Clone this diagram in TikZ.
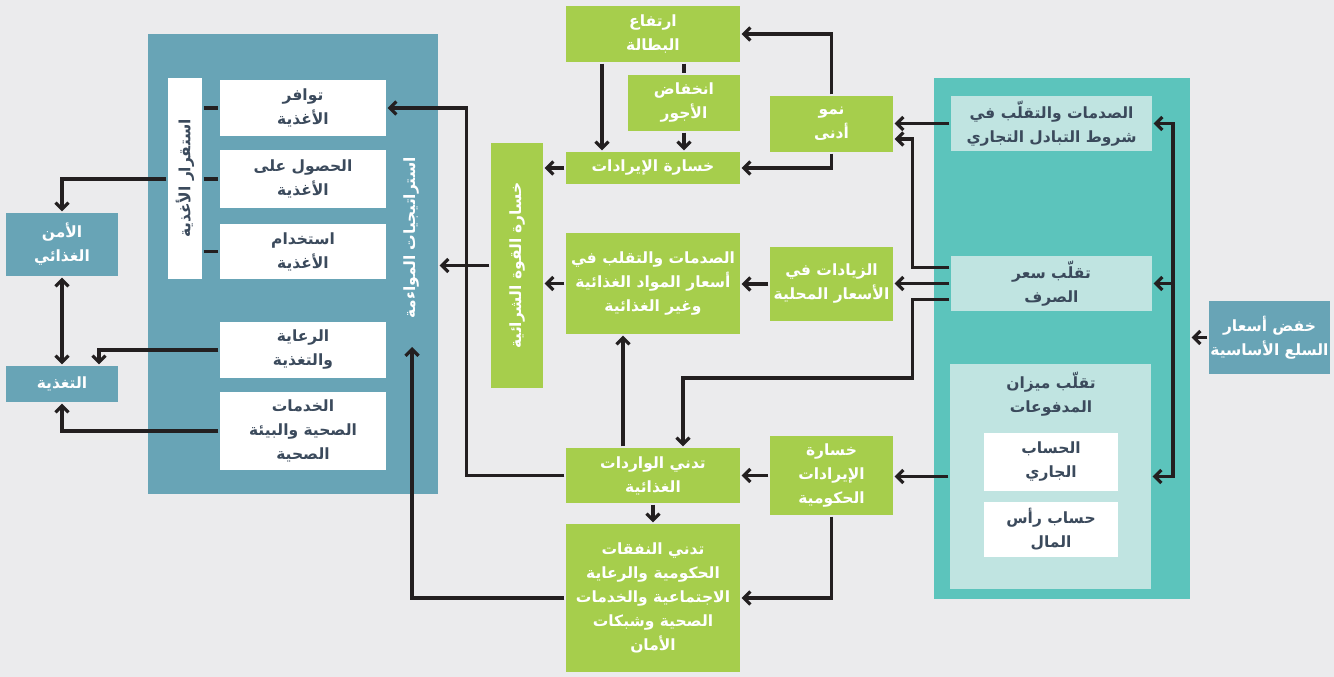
\documentclass[tikz,border=0pt]{standalone}
\usepackage{fontspec}
\usepackage{graphicx}
\usepackage{tikz}
\usetikzlibrary{arrows.meta}

\TeXXeTstate=1
\newfontfamily\arabicfont[Script=Arabic]{DejaVu Sans}
\newcommand{\ar}[1]{{\arabicfont\beginR #1\endR}}

\definecolor{bgGrey}{HTML}{EBEBED}
\definecolor{steelBlue}{HTML}{68A4B6}
\definecolor{leafGreen}{HTML}{A6CE4C}
\definecolor{seaTeal}{HTML}{5CC4BC}
\definecolor{paleTeal}{HTML}{C0E4E1}
\definecolor{inkSlate}{HTML}{3B4A5C}
\definecolor{lineBlack}{HTML}{231F20}

\begin{document}
\begin{tikzpicture}[x=1pt, y=-1pt, >={Straight Barb[length=6.5pt, width=13pt]},
    line width=3.2pt, draw=lineBlack, every node/.style={inner sep=0pt,
    align=center, font=\fontsize{15.5}{24}\selectfont\bfseries}]

  \tikzstyle{panel}=[minimum width=10, minimum height=10]
  \tikzstyle{gbox}=[fill=leafGreen, text=white]
  \tikzstyle{bbox}=[fill=steelBlue, text=white]
  \tikzstyle{wbox}=[fill=white, text=inkSlate]
  \tikzstyle{tbox}=[fill=paleTeal, text=inkSlate]

  \path[use as bounding box, fill=bgGrey] (0,0) rectangle (1334,677);

  % panels
  \node[panel, fill=steelBlue, minimum width=290, minimum height=460] (ADAPT) at (293,264) {};
  \node[text=white, rotate=90] (ADAPTlbl) at (411,238) {\ar{استراتيجيات المواءمة}};
  \node[panel, fill=seaTeal, minimum width=256, minimum height=521] (MACRO) at (1062,338.5) {};

  % food security side
  \node[wbox, minimum width=34, minimum height=201] (STAB) at (185,178.5) {\rotatebox{90}{\ar{استقرار الأغذية}}};
  \node[wbox, minimum width=166, minimum height=56] (AVAIL) at (303,108) {\ar{توافر}\\\ar{الأغذية}};
  \node[wbox, minimum width=166, minimum height=58] (ACCESS) at (303,179) {\ar{الحصول على}\\\ar{الأغذية}};
  \node[wbox, minimum width=166, minimum height=55] (UTIL) at (303,251.5) {\ar{استخدام}\\\ar{الأغذية}};
  \node[wbox, minimum width=166, minimum height=56] (CARE) at (303,350) {\ar{الرعاية}\\\ar{والتغذية}};
  \node[wbox, minimum width=166, minimum height=78] (HEALTH) at (303,431) {\ar{الخدمات}\\\ar{الصحية والبيئة}\\\ar{الصحية}};
  \node[bbox, minimum width=112, minimum height=63] (FSEC) at (62,244.5) {\ar{الأمن}\\\ar{الغذائي}};
  \node[bbox, minimum width=112, minimum height=36] (NUTR) at (62,384) {\ar{التغذية}};
  \coordinate (ADAPTin) at (412,347);

  % household and government channels
  \node[gbox, minimum width=174, minimum height=56] (UNEMP) at (653,34) {\ar{ارتفاع}\\\ar{البطالة}};
  \node[gbox, minimum width=112, minimum height=56] (WAGES) at (684,103) {\ar{انخفاض}\\\ar{الأجور}};
  \node[gbox, minimum width=174, minimum height=32] (INCLOSS) at (653,168) {\ar{خسارة الإيرادات}};
  \node[gbox, minimum width=123, minimum height=56] (GROWTH) at (831.5,124) {\ar{نمو}\\\ar{أدنى}};
  \node[gbox, minimum width=52, minimum height=245] (PPLOSS) at (517,265.5) {\rotatebox{90}{\ar{خسارة القوة الشرائية}}};
  \node[gbox, minimum width=174, minimum height=101] (PRICESHOCK) at (653,283.5) {\ar{الصدمات والتقلب في}\\\ar{أسعار المواد الغذائية}\\\ar{وغير الغذائية}};
  \node[gbox, minimum width=123, minimum height=74] (DOMPRICE) at (831.5,284) {\ar{الزيادات في}\\\ar{الأسعار المحلية}};
  \node[gbox, minimum width=174, minimum height=55] (IMPORTS) at (653,475.5) {\ar{تدني الواردات}\\\ar{الغذائية}};
  \node[gbox, minimum width=174, minimum height=148] (SPEND) at (653,598) {\ar{تدني النفقات}\\\ar{الحكومية والرعاية}\\\ar{الاجتماعية والخدمات}\\\ar{الصحية وشبكات}\\\ar{الأمان}};
  \node[gbox, minimum width=123, minimum height=79] (GOVREV) at (831.5,475.5) {\ar{خسارة}\\\ar{الإيرادات}\\\ar{الحكومية}};

  % macro shocks
  \node[tbox, minimum width=201, minimum height=55] (TOT) at (1051.5,123.5) {\ar{الصدمات والتقلّب في}\\\ar{شروط التبادل التجاري}};
  \node[tbox, minimum width=201, minimum height=55] (EXCH) at (1051.5,283.5) {\ar{تقلّب سعر}\\\ar{الصرف}};
  \node[tbox, minimum width=201, minimum height=225] (BOP) at (1050.5,476.5) {};
  \node[text=inkSlate] (BOPlbl) at (1051,394) {\ar{تقلّب ميزان}\\\ar{المدفوعات}};
  \node[wbox, minimum width=134, minimum height=58] (CURACC) at (1051,462) {\ar{الحساب}\\\ar{الجاري}};
  \node[wbox, minimum width=134, minimum height=55] (CAPACC) at (1051,529.5) {\ar{حساب رأس}\\\ar{المال}};
  \node[bbox, minimum width=121, minimum height=73] (COMMOD) at (1269.5,337.5) {\ar{خفض أسعار}\\\ar{السلع الأساسية}};
  \coordinate (BUS) at (1173,300);

  \draw (STAB.east |- AVAIL.west) -- (AVAIL.west);
  \draw (STAB.east |- ACCESS.west) -- (ACCESS.west);
  \draw (STAB.east |- UTIL.west) -- (UTIL.west);
  \draw[->] (STAB.west |- ACCESS.west) -| (FSEC.north);
  \draw[<->] (FSEC.south) -- (NUTR.north);
  \draw[->] (CARE.west) -| ([xshift=37pt]NUTR.north);
  \draw[->] (HEALTH.west) -| (NUTR.south);

  \draw[->] (GROWTH.north) |- (UNEMP.east);
  \draw[->] (GROWTH.south) |- (INCLOSS.east);
  \draw[->] ([xshift=-51pt]UNEMP.south) -- ([xshift=-51pt]INCLOSS.north);
  \draw (UNEMP.south -| WAGES.north) -- (WAGES.north);
  \draw[->] (WAGES.south) -- (WAGES.south |- INCLOSS.north);
  \draw[->] (INCLOSS.west) -- (INCLOSS.west -| PPLOSS.east);
  \draw[->] (DOMPRICE.west) -- (DOMPRICE.west -| PRICESHOCK.east);
  \draw[->] (PRICESHOCK.west) -- (PRICESHOCK.west -| PPLOSS.east);
  \draw[->] (PPLOSS.west) -- (PPLOSS.west -| ADAPT.east);
  \draw[->] ([xshift=-30pt]IMPORTS.north) -- ([xshift=-30pt]PRICESHOCK.south);
  \draw[->] (IMPORTS.south) -- (SPEND.north);
  \draw[->] (GOVREV.west) -- (GOVREV.west -| IMPORTS.east);
  \draw[->] (GOVREV.south) |- (SPEND.east);
  \draw[->] (IMPORTS.west) -- ++(-98,0) |- (AVAIL.east);
  \draw[->] (SPEND.west) -| (ADAPTin);

  \draw[->] (TOT.west) -- (TOT.west -| GROWTH.east);
  \draw[->] ([yshift=16pt]EXCH.west) -- ++(-37,0) |- ([yshift=-15pt]GROWTH.east);
  \draw[->] (EXCH.west) -- (EXCH.west -| DOMPRICE.east);
  \draw[->] ([yshift=-16pt]EXCH.west) -- ++(-37,0) -- ++(0,78.5) -| ([xshift=30pt]IMPORTS.north);
  \draw[->] (BOP.west) -- (BOP.west -| GOVREV.east);
  \draw[->] (COMMOD.west) -- (COMMOD.west -| MACRO.east);
  \draw[<->] (TOT.east) -| (BUS) |- (BOP.east);
  \draw[->] (BUS |- EXCH.east) -- (EXCH.east);
\end{tikzpicture}
\end{document}
